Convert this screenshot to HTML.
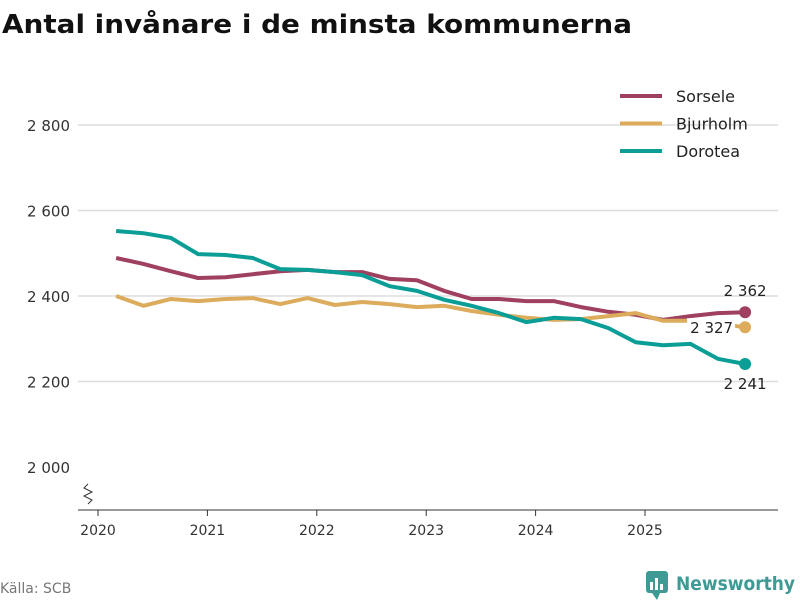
<!DOCTYPE html>
<html><head><meta charset="utf-8"><style>
body{margin:0;background:#fff;font-family:"DejaVu Sans","Liberation Sans",sans-serif}
</style></head><body>
<svg width="800" height="600" xmlns="http://www.w3.org/2000/svg" font-family="DejaVu Sans, Liberation Sans, sans-serif">
<text x="2" y="33" font-size="26" font-weight="bold" fill="#111" textLength="630" lengthAdjust="spacingAndGlyphs">Antal invånare i de minsta kommunerna</text>
<g id="grid"></g>
<g id="series"></g>
<g id="legend"></g>
<text x="0" y="593" font-size="14" fill="#777">Källa: SCB</text>
<g>
<rect x="646" y="571" width="22" height="22" rx="3" fill="#3e9a94"/>
<rect x="650" y="582" width="3" height="8" fill="#fff"/><rect x="655" y="578" width="3" height="12" fill="#fff"/><rect x="660" y="584" width="3" height="6" fill="#fff"/>
<path d="M652 593 L657 600 L660 593 Z" fill="#3e9a94"/>
<text x="676" y="590" font-size="19" font-weight="bold" fill="#3e9a94" textLength="119" lengthAdjust="spacingAndGlyphs">Newsworthy</text>
</g>
</svg>
<script>
const years=[2020,2021,2022,2023,2024,2025];
const yTicks=[2000,2200,2400,2600,2800];
const startT=2020.165, stepT=0.25;
const sorsele=[2489,2475,2458,2442,2444,2451,2458,2461,2456,2456,2440,2437,2412,2393,2393,2388,2388,2374,2363,2356,2344,2353,2360,2362];
const bjurholm=[2400,2377,2393,2388,2393,2395,2381,2395,2379,2386,2381,2374,2377,2365,2356,2349,2344,2346,2353,2360,2342,2342,2335,2327];
const dorotea=[2552,2547,2536,2498,2496,2489,2463,2461,2456,2449,2423,2412,2391,2377,2360,2339,2349,2346,2325,2292,2285,2288,2253,2241];
const names=["Sorsele","Bjurholm","Dorotea"];
const colors=["#a0405f","#dcac5c","#0a9e96"];
const NS="http://www.w3.org/2000/svg";
const x=t=>98+(t-2020)*109.4;
const y=v=>296-(v-2400)*0.4275;
function mk(tag,attrs,parent,txt){const e=document.createElementNS(NS,tag);for(const k in attrs)e.setAttribute(k,attrs[k]);if(txt!==undefined)e.textContent=txt;parent.appendChild(e);return e;}
const grid=document.getElementById('grid');
yTicks.forEach(v=>{
 if(v>2000){const l=mk('line',{x1:78,x2:778,y1:y(v),y2:y(v),stroke:'#ddd','stroke-width':1.5},grid);
 
 }
 const t=mk('text',{x:70,y:y(v)+6,'text-anchor':'end','font-size':15,fill:'#333'},grid,String(v).replace(/(\d)(\d{3})$/,'$1 $2'));
 
 
});
mk('line',{x1:78,x2:778,y1:510,y2:510,stroke:'#333','stroke-width':1},grid);
mk('path',{d:'M88 484 L84 488 L92 492 L84 496 L92 500 L88 504',fill:'none',stroke:'#333','stroke-width':1},grid);
years.forEach(yr=>{
 mk('line',{x1:x(yr),x2:x(yr),y1:510,y2:516,stroke:'#333'},grid);
 const t=mk('text',{x:x(yr),y:535,'text-anchor':'middle','font-size':14,fill:'#333'},grid,yr);
 
 
});
const ser=document.getElementById('series');
[sorsele,bjurholm,dorotea].forEach((d,i)=>{
 const pts=d.map((v,j)=>x(startT+j*stepT).toFixed(1)+','+y(v).toFixed(1)).join(' ');
 const p=mk('polyline',{points:pts,fill:'none',stroke:colors[i],'stroke-width':4,'stroke-linejoin':'round'},ser);
 
 
 const last=d[d.length-1], lx=x(startT+(d.length-1)*stepT);
 const c=mk('circle',{cx:lx,cy:y(last),r:6,fill:colors[i]},ser);
 
 
 const lab=String(last).replace(/(\d)(\d{3})$/,'$1 $2');
 let tx=lx,ty,anchor='middle';
 if(i===0){ty=y(last)-16;}else if(i===1){tx=lx-12;ty=y(last)+6;anchor='end';}else{ty=y(last)+25;}
 if(i===1) mk('rect',{x:tx-46,y:ty-15,width:48,height:20,fill:'#fff'},ser);
 const t=mk('text',{x:tx,y:ty,'text-anchor':anchor,'font-size':15,fill:'#222'},ser,lab);
 
 
});
const leg=document.getElementById('legend');
names.forEach((n,i)=>{
 const yy=96+i*27.5;
 mk('line',{x1:620,x2:662,y1:yy,y2:yy,stroke:colors[i],'stroke-width':4},leg);
 const t=mk('text',{x:676,y:yy+6,'font-size':16,fill:'#222'},leg,n);
 
 
});
</script>
</body></html>
